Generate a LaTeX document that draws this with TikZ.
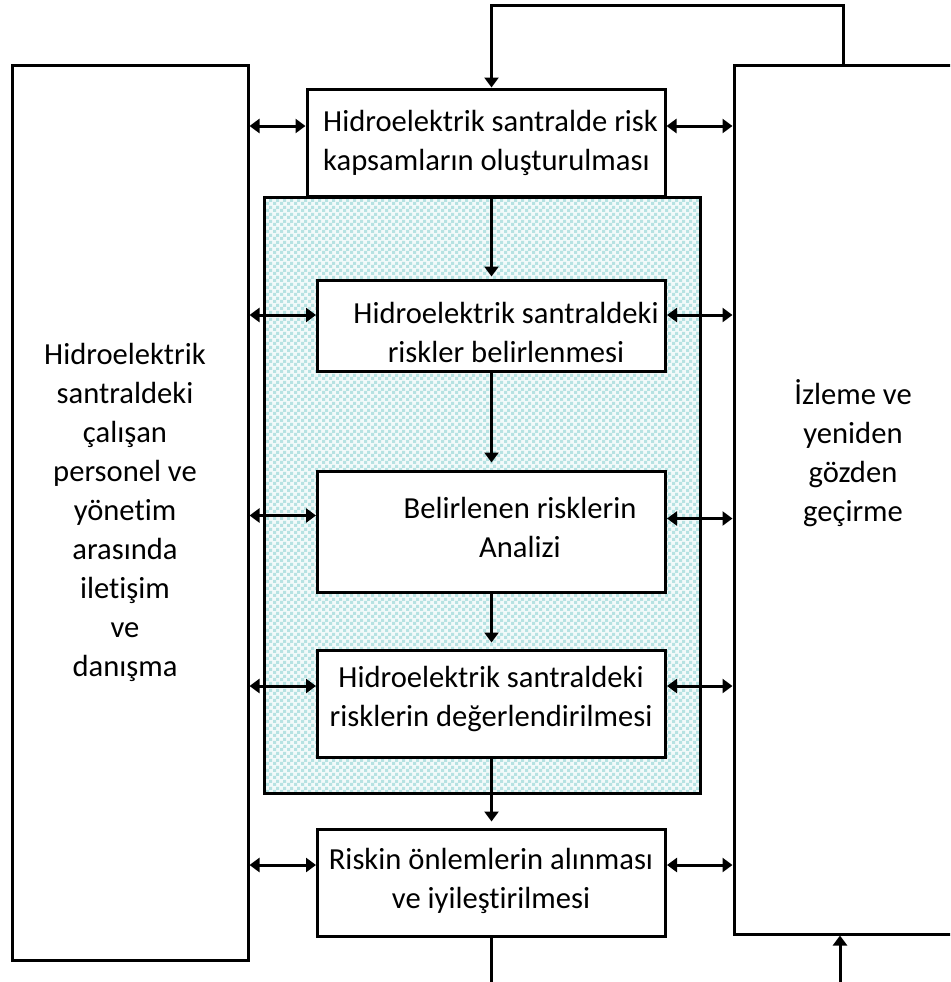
\documentclass[tikz,border=0pt]{standalone}
\usepackage{fontspec}
\setmainfont{Carlito}[RawFeature=-liga]
\usetikzlibrary{arrows.meta,patterns,calc}
\pgfdeclarepatternformonly{mychecker}{\pgfpointorigin}{\pgfqpoint{7pt}{7pt}}{\pgfqpoint{7pt}{7pt}}{%
  \pgfpathrectangle{\pgfpointorigin}{\pgfqpoint{3.5pt}{3.5pt}}%
  \pgfpathrectangle{\pgfqpoint{3.5pt}{3.5pt}}{\pgfqpoint{3.5pt}{3.5pt}}%
  \pgfusepath{fill}}
\definecolor{tealA}{RGB}{182,226,226}
\definecolor{tealB}{RGB}{242,250,250}
\begin{document}
\begin{tikzpicture}[x=1pt,y=-1pt,
  box/.style={draw,line width=3pt,fill=white,inner sep=0pt},
  txt/.style={align=center,inner sep=0pt,font=\fontsize{30.6}{39}\selectfont},
  arr/.style={line width=3pt,-{Triangle[length=10pt,width=14pt]}},
  dbl/.style={line width=3pt,{Triangle[length=10pt,width=14pt]}-{Triangle[length=10pt,width=14pt]}},
  ln/.style={line width=3pt}]
\useasboundingbox (0,0) rectangle (950,982);
\clip (0,0) rectangle (950,982);
\fill[white] (0,0) rectangle (950,982);
% shaded area
\fill[tealB] (264.5,197) rectangle (700,793);
\path[pattern=mychecker,pattern color=tealA] (264.5,197) rectangle (700,793);
\draw[line width=3pt] (264.5,197) rectangle (700,793);
% boxes
\node[box,minimum width=236pt,minimum height=894pt] (L) at (130,513) {};
\node[box,minimum width=266pt,minimum height=868pt] (R) at (867,500) {};
\node[box,minimum width=358pt,minimum height=107pt] (B1) at (486,142.5) {};
\node[box,minimum width=348pt,minimum height=91pt] (B2) at (491.5,325.5) {};
\node[box,minimum width=348pt,minimum height=121pt] (B3) at (491.5,531.5) {};
\node[box,minimum width=348pt,minimum height=107pt] (B4) at (491.5,703.5) {};
\node[box,minimum width=348pt,minimum height=107pt] (B5) at (491.5,882.5) {};
% texts
\node[txt,align=left,anchor=west] (tB1) at (323,143) {Hidroelektrik santralde risk\\kapsamların oluşturulması};
\node[txt] (tB2) at (506,332) {Hidroelektrik santraldeki\\riskler belirlenmesi};
\node[txt] (tB3) at (520,527) {Belirlenen risklerin\\Analizi};
\node[txt] (tB4) at (491,699) {Hidroelektrik santraldeki\\risklerin değerlendirilmesi};
\node[txt] (tB5) at (491,881) {Riskin önlemlerin alınması\\ve iyileştirilmesi};
\node[txt] (tL) at (125,512) {Hidroelektrik\\santraldeki\\çalışan\\personel ve\\yönetim\\arasında\\iletişim\\ve\\danışma};
\node[txt] (tR) at (853,453) {İzleme ve\\yeniden\\gözden\\geçirme};
% vertical flow
\draw[arr,shorten >=2pt] (B2.north |- B1.south) -- (B2.north);
\draw[arr,shorten >=7pt] (B2.south) -- (B3.north);
\draw[arr,shorten >=6pt] (B3.south) -- (B4.north);
\draw[arr,shorten >=6pt] (B4.south) -- (B5.north);
% feedback loop
\coordinate (fbx) at (843,6);
\coordinate (bot1) at (492,990);
\coordinate (bot2) at (840,990);
\draw[arr] (fbx |- R.north) -- (fbx) -| (B1.north -| B2.north);
\draw[ln] (B5.south) -- (bot1 -| B5.south);
\draw[arr] (bot2) -- (bot2 |- R.south);
% double arrows
\coordinate (l1) at ([yshift=16.5pt]B1.west);
\coordinate (l2) at ([yshift=10.5pt]B2.west);
\coordinate (l3) at ([yshift=16pt]B3.west);
\coordinate (l4) at ([yshift=17.5pt]B4.west);
\coordinate (l5) at ([yshift=17.5pt]B5.west);
\coordinate (r1) at ([yshift=16.5pt]B1.east);
\coordinate (r2) at ([yshift=10.5pt]B2.east);
\coordinate (r3) at ([yshift=13pt]B3.east);
\coordinate (r4) at ([yshift=17.5pt]B4.east);
\coordinate (r5) at ([yshift=17.5pt]B5.east);
\foreach \i in {1,...,5}{
  \draw[dbl] (L.east |- l\i) -- (l\i);
  \draw[dbl] (r\i) -- (R.west |- r\i);
}
\end{tikzpicture}
\end{document}
